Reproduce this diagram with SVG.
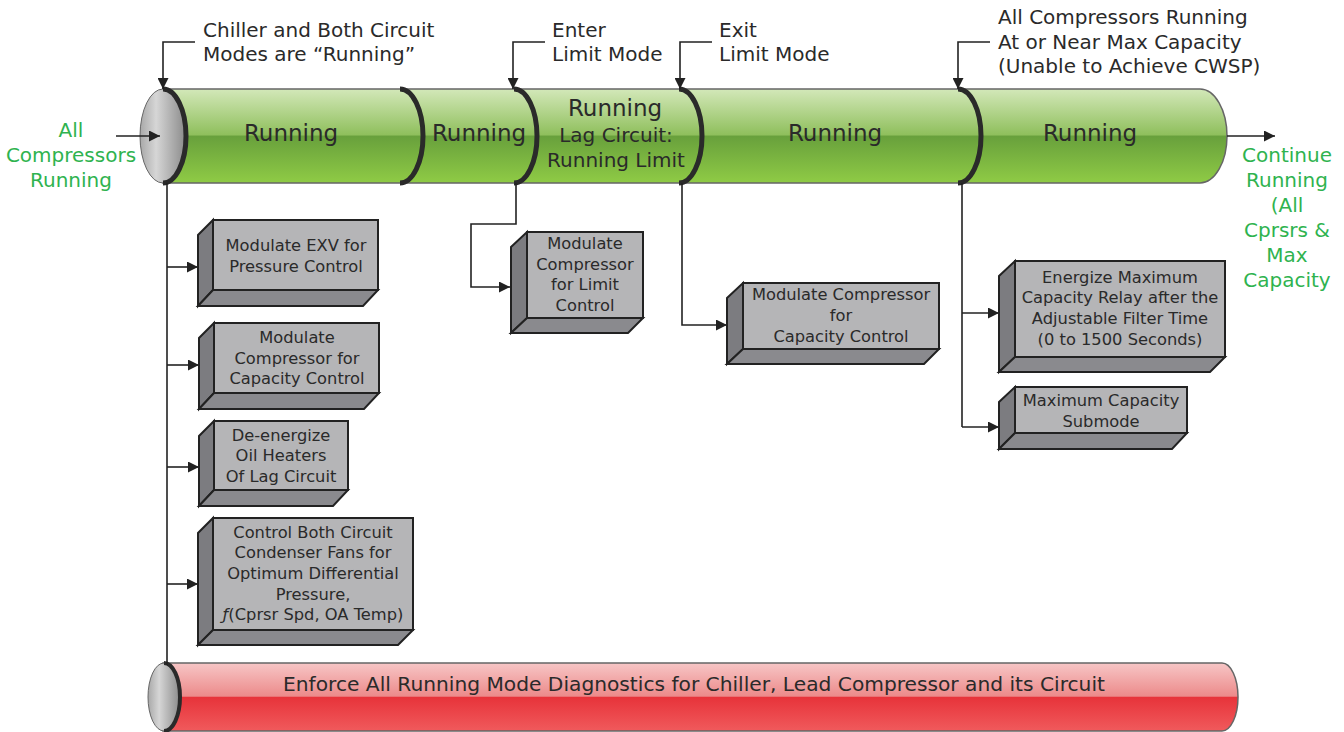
<svg xmlns="http://www.w3.org/2000/svg" width="1344" height="732" viewBox="0 0 1344 732">
<defs>
<linearGradient id="gGreen" x1="0" y1="0" x2="0" y2="1">
<stop offset="0" stop-color="#d3e8b9"/><stop offset="0.49" stop-color="#8fbf5c"/><stop offset="0.5" stop-color="#68a03c"/><stop offset="1" stop-color="#8fcb45"/>
</linearGradient>
<linearGradient id="gRed" x1="0" y1="0" x2="0" y2="1">
<stop offset="0" stop-color="#f7c6c6"/><stop offset="0.49" stop-color="#ec8a8a"/><stop offset="0.5" stop-color="#e7333a"/><stop offset="1" stop-color="#f05a5c"/>
</linearGradient>
<linearGradient id="gCap" x1="0" y1="0" x2="1" y2="0">
<stop offset="0" stop-color="#a8a8a8"/><stop offset="0.35" stop-color="#d6d6d6"/><stop offset="1" stop-color="#8a8a8a"/>
</linearGradient>
<marker id="ah" viewBox="0 0 10 10" refX="10" refY="5" markerWidth="11" markerHeight="11" markerUnits="userSpaceOnUse" orient="auto">
<path d="M0,0 L10,5 L0,10 Z" fill="#222"/>
</marker>
<style>
text{font-family:"DejaVu Sans","Liberation Sans",sans-serif;fill:#2a2a2a}
.cyl{font-size:23px;text-anchor:middle}
.lab{font-size:20px}
.grn{font-size:20px;fill:#2fb34f;text-anchor:middle}
.bx{font-size:16.3px;text-anchor:middle}
.front{fill:#b5b5b7;stroke:#222;stroke-width:2}
.side{fill:#7c7c80;stroke:#222;stroke-width:2}
.bot{fill:#8a8a8e;stroke:#222;stroke-width:2}
.ln{fill:none;stroke:#222;stroke-width:1.6}
.div{fill:none;stroke:#2a2a2a;stroke-width:5}
</style>
</defs>

<g id="timeline">
<path d="M163,89 H1200 A27,47 0 0 1 1200,183 H163 Z" fill="url(#gGreen)" stroke="#666" stroke-width="1.5"/>
<ellipse cx="163" cy="136" rx="23" ry="47" fill="url(#gCap)" stroke="#666" stroke-width="1"/>
<path class="div" d="M163,89 A23,47 0 0 1 163,183"/>
<path class="div" d="M400,89 A23,47 0 0 1 400,183"/>
<path class="div" d="M514,89 A23,47 0 0 1 514,183"/>
<path class="div" d="M679,89 A23,47 0 0 1 679,183"/>
<path class="div" d="M958,89 A23,47 0 0 1 958,183"/>
<text class="cyl" x="291" y="141">Running</text>
<text class="cyl" x="479" y="141">Running</text>
<text class="cyl" x="615" y="116">Running</text>
<text class="cyl" x="616" y="142" style="font-size:20px">Lag Circuit:</text>
<text class="cyl" x="616" y="167" style="font-size:20px">Running Limit</text>
<text class="cyl" x="835" y="141">Running</text>
<text class="cyl" x="1090" y="141">Running</text>
</g>

<g id="diagnostics">
<path d="M163,663 H1222 A16,34 0 0 1 1222,731 H163 Z" fill="url(#gRed)" stroke="#666" stroke-width="1.5"/>
<ellipse cx="164" cy="697" rx="16" ry="34" fill="url(#gCap)" stroke="#666" stroke-width="1"/>
<path class="div" style="stroke-width:4" d="M164,663 A16,34 0 0 1 164,731"/>
<text x="694" y="691" style="font-size:20.2px;text-anchor:middle">Enforce All Running Mode Diagnostics for Chiller, Lead Compressor and its Circuit</text>
</g>

<g id="labels">
<text class="lab" x="203" y="37">Chiller and Both Circuit</text>
<text class="lab" x="203" y="61">Modes are “Running”</text>
<text class="lab" x="552" y="37">Enter</text>
<text class="lab" x="552" y="61">Limit Mode</text>
<text class="lab" x="719" y="37">Exit</text>
<text class="lab" x="719" y="61">Limit Mode</text>
<text class="lab" x="998" y="24">All Compressors Running</text>
<text class="lab" x="998" y="49">At or Near Max Capacity</text>
<text class="lab" x="998" y="73">(Unable to Achieve CWSP)</text>
<text class="grn" x="71" y="137">All</text>
<text class="grn" x="71" y="162">Compressors</text>
<text class="grn" x="71" y="187">Running</text>
<text class="grn" x="1287" y="162">Continue</text>
<text class="grn" x="1287" y="187">Running</text>
<text class="grn" x="1287" y="212">(All</text>
<text class="grn" x="1287" y="237">Cprsrs &amp;</text>
<text class="grn" x="1287" y="262">Max</text>
<text class="grn" x="1287" y="287">Capacity</text>
</g>

<g id="connectors">
<path class="ln" marker-end="url(#ah)" d="M195,42 H163 V89"/>
<path class="ln" marker-end="url(#ah)" d="M545,42 H513 V89"/>
<path class="ln" marker-end="url(#ah)" d="M712,42 H680 V89"/>
<path class="ln" marker-end="url(#ah)" d="M990,42 H958 V89"/>
<path class="ln" marker-end="url(#ah)" d="M116,136 H160"/>
<path class="ln" marker-end="url(#ah)" d="M1227,136 H1275"/>
<path class="ln" d="M167,183 V665"/>
<path class="ln" marker-end="url(#ah)" d="M167,267 H198"/>
<path class="ln" marker-end="url(#ah)" d="M167,365 H199"/>
<path class="ln" marker-end="url(#ah)" d="M167,467 H199"/>
<path class="ln" marker-end="url(#ah)" d="M167,584 H198"/>
<path class="ln" marker-end="url(#ah)" d="M516,183 V224 H471 V287 H510"/>
<path class="ln" marker-end="url(#ah)" d="M682,183 V325 H727"/>
<path class="ln" d="M962,183 V427"/>
<path class="ln" marker-end="url(#ah)" d="M962,313 H999"/>
<path class="ln" marker-end="url(#ah)" d="M962,427 H999"/>
</g>

<g id="box-exv">
<polygon class="side" points="198,235 213,220 213,290 198,306"/>
<polygon class="bot" points="198,306 213,290 378,290 363,306"/>
<rect class="front" x="213" y="220" width="165" height="70"/>
<text class="bx" x="296" y="251">Modulate EXV for</text>
<text class="bx" x="296" y="272">Pressure Control</text>
</g>

<g id="box-capacity">
<polygon class="side" points="199,338 214,323 214,393 199,409"/>
<polygon class="bot" points="199,409 214,393 379,393 364,409"/>
<rect class="front" x="214" y="323" width="165" height="70"/>
<text class="bx" x="297" y="343">Modulate</text>
<text class="bx" x="297" y="364">Compressor for</text>
<text class="bx" x="297" y="384">Capacity Control</text>
</g>

<g id="box-heaters">
<polygon class="side" points="199,436 214,421 214,490 199,506"/>
<polygon class="bot" points="199,506 214,490 348,490 333,506"/>
<rect class="front" x="214" y="421" width="134" height="69"/>
<text class="bx" x="281" y="441">De-energize</text>
<text class="bx" x="281" y="461">Oil Heaters</text>
<text class="bx" x="281" y="482">Of Lag Circuit</text>
</g>

<g id="box-fans">
<polygon class="side" points="198,533 213,518 213,630 198,645"/>
<polygon class="bot" points="198,645 213,630 413,630 398,645"/>
<rect class="front" x="213" y="518" width="200" height="112"/>
<text class="bx" x="313" y="538">Control Both Circuit</text>
<text class="bx" x="313" y="558">Condenser Fans for</text>
<text class="bx" x="313" y="579">Optimum Differential</text>
<text class="bx" x="313" y="600">Pressure,</text>
<text class="bx" x="313" y="620"><tspan font-style="italic">ƒ</tspan>(Cprsr Spd, OA Temp)</text>
</g>

<g id="box-limit">
<polygon class="side" points="511,247 527,232 527,318 511,333"/>
<polygon class="bot" points="511,333 527,318 643,318 628,333"/>
<rect class="front" x="527" y="232" width="116" height="86"/>
<text class="bx" x="585" y="249">Modulate</text>
<text class="bx" x="585" y="270">Compressor</text>
<text class="bx" x="585" y="290">for Limit</text>
<text class="bx" x="585" y="311">Control</text>
</g>

<g id="box-capacity2">
<polygon class="side" points="727,298 743,283 743,349 727,364"/>
<polygon class="bot" points="727,364 743,349 939,349 924,364"/>
<rect class="front" x="743" y="283" width="196" height="66"/>
<text class="bx" x="841" y="300">Modulate Compressor</text>
<text class="bx" x="841" y="321">for</text>
<text class="bx" x="841" y="342">Capacity Control</text>
</g>

<g id="box-relay">
<polygon class="side" points="999,276 1015,261 1015,357 999,372"/>
<polygon class="bot" points="999,372 1015,357 1225,357 1210,372"/>
<rect class="front" x="1015" y="261" width="210" height="96"/>
<text class="bx" x="1120" y="283">Energize Maximum</text>
<text class="bx" x="1120" y="303">Capacity Relay after the</text>
<text class="bx" x="1120" y="324">Adjustable Filter Time</text>
<text class="bx" x="1120" y="345">(0 to 1500 Seconds)</text>
</g>

<g id="box-submode">
<polygon class="side" points="999,402 1015,387 1015,433 999,449"/>
<polygon class="bot" points="999,449 1015,433 1187,433 1172,449"/>
<rect class="front" x="1015" y="387" width="172" height="46"/>
<text class="bx" x="1101" y="406">Maximum Capacity</text>
<text class="bx" x="1101" y="427">Submode</text>
</g>
</svg>
